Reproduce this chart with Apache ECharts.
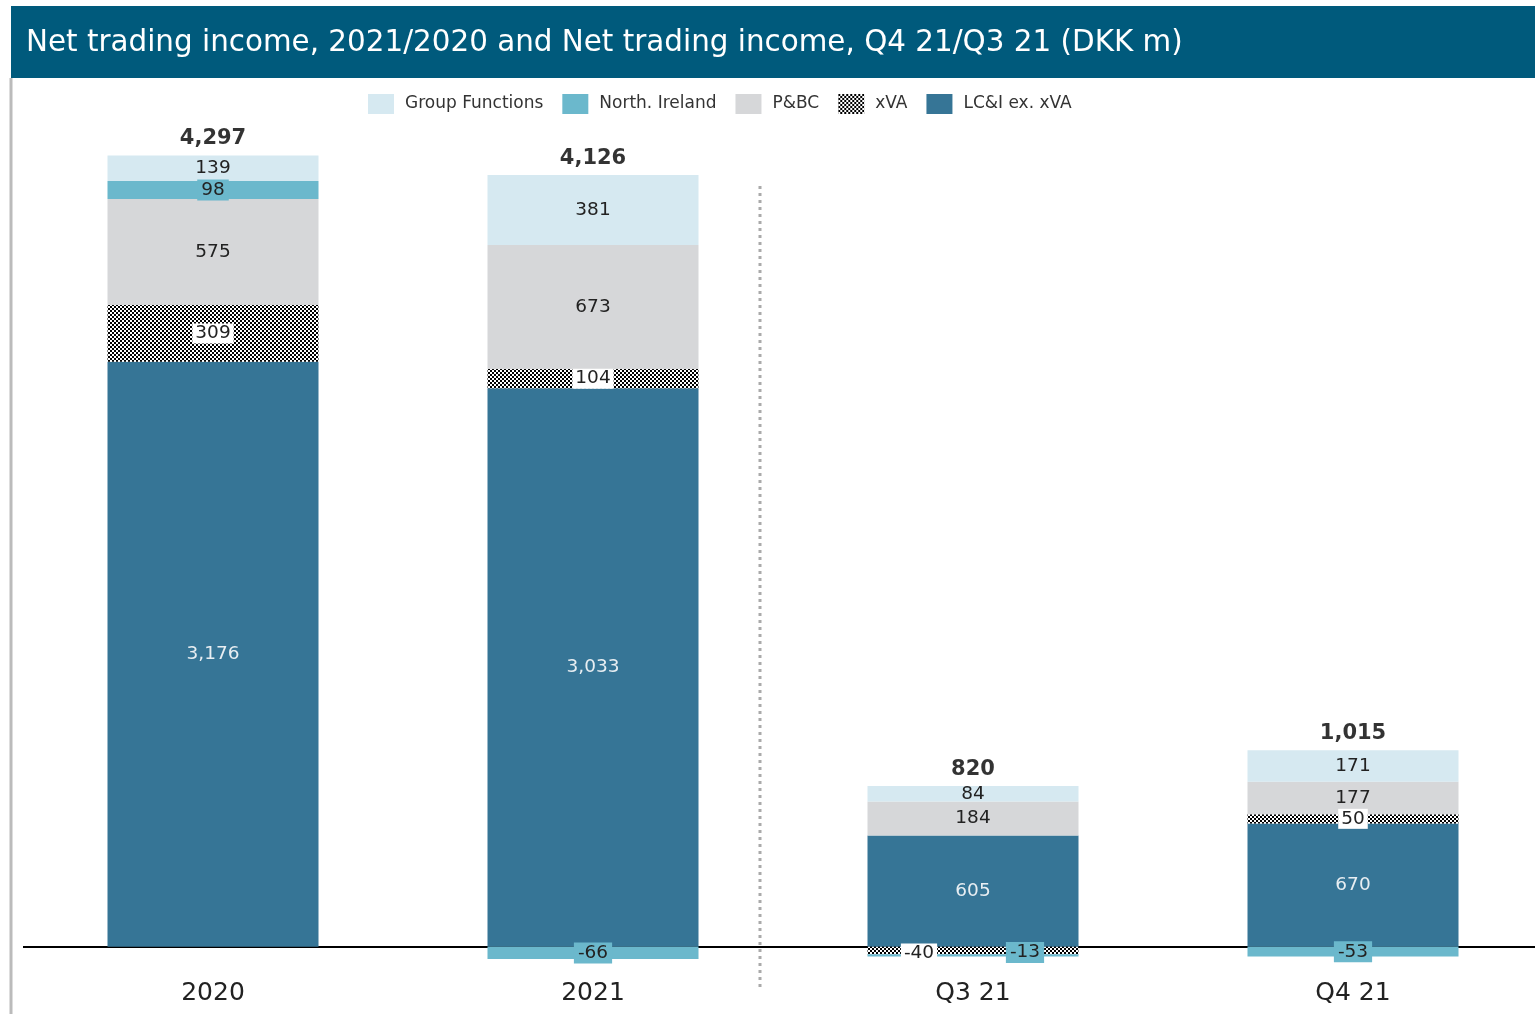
<!DOCTYPE html>
<html><head><meta charset="utf-8">
<script src="https://cdn.jsdelivr.net/npm/echarts@6/dist/echarts.min.js"></script>
<style>html,body{margin:0;padding:0;background:#fff}#c{width:1535px;height:1014px}</style>
</head><body><div id="c"></div>
<script>
const categories = ['2020', '2021', 'Q3 21', 'Q4 21'];
const lciExXva = [3176, 3033, 605, 670];
const xva = [309, 104, -40, 50];
const pbc = [575, 673, 184, 177];
const northIreland = [98, -66, -13, -53];
const groupFunctions = [139, 381, 84, 171];
const totals = [4297, 4126, 820, 1015];
const title = 'Net trading income, 2021/2020 and Net trading income, Q4 21/Q3 21 (DKK m)';

const FONT = 'DejaVu Sans';
const fmt = v => v.toLocaleString('en-US');

const pc = document.createElement('canvas');
pc.width = 4; pc.height = 4;
const g = pc.getContext('2d');
g.fillStyle = '#fff'; g.fillRect(0, 0, 4, 4);
g.fillStyle = '#000'; g.fillRect(0, 0, 2, 2); g.fillRect(2, 2, 2, 2);
const hatch = { image: pc, repeat: 'repeat' };

const labelOffsets = { 'xVA': { 2: [-54, 3] }, 'North. Ireland': { 2: [52, -3] } };

function mk(name, arr, color, labelStyle, extra) {
  return Object.assign({
    name, type: 'bar', stack: 'a', barWidth: 211,
    itemStyle: { color },
    label: Object.assign({ show: true, position: 'inside', fontFamily: FONT, fontSize: 18.5, color: '#222', formatter: p => fmt(p.value) }, labelStyle),
    data: arr.map((v, i) => {
      const off = labelOffsets[name] && labelOffsets[name][i];
      return off ? { value: v, label: { offset: off } } : v;
    })
  }, extra || {});
}

const posTop = categories.map((_, i) =>
  [lciExXva, xva, pbc, northIreland, groupFunctions].reduce((s, a) => s + Math.max(0, a[i]), 0));

const chart = echarts.init(document.getElementById('c'));
chart.setOption({
  animation: false,
  grid: { left: 23, width: 1520, top: 118, bottom: 34, containLabel: false, outerBoundsMode: 'none' },
  legend: {
    top: 89, left: 363,
    data: ['Group Functions', 'North. Ireland', 'P&BC', 'xVA', 'LC&I ex. xVA'],
    icon: 'rect',
    itemWidth: 26, itemHeight: 20, itemGap: 19,
    textStyle: { fontFamily: FONT, fontSize: 17, color: '#333', padding: [0, 0, 0, 6] }
  },
  xAxis: {
    type: 'category', data: categories,
    axisLine: { show: false, onZero: false },
    axisTick: { show: false },
    axisLabel: { margin: 1, fontFamily: FONT, fontSize: 25, color: '#222' }
  },
  yAxis: { type: 'value', min: -180, max: 4500, show: false, splitLine: { show: false } },
  series: [
    mk('LC&I ex. xVA', lciExXva, '#367596', { color: '#e8eef2' }),
    mk('xVA', xva, hatch, { backgroundColor: '#fff', padding: [1, 3, 0, 3] }),
    mk('P&BC', pbc, '#D6D7D9', {}),
    mk('North. Ireland', northIreland, '#6BB8CC', { backgroundColor: '#6BB8CC', padding: [2, 4, 0, 4] }),
    mk('Group Functions', groupFunctions, '#D6E9F1', {}, {
      markLine: { silent: true, symbol: 'none', label: { show: false }, z: 1,
        lineStyle: { color: '#000', width: 2, type: 'solid' }, data: [{ yAxis: 0 }] }
    }),
    {
      name: 'total', type: 'scatter', symbolSize: 0, silent: true,
      data: posTop,
      label: { show: true, position: 'top', distance: 6, fontFamily: FONT, fontSize: 21, fontWeight: 'bold', color: '#000',
        formatter: p => fmt(totals[p.dataIndex]) }
    }
  ],
  graphic: [
    { type: 'rect', shape: { x: 11, y: 6, width: 1524, height: 72 }, style: { fill: '#005A7C' } },
    { type: 'text', x: 26, y: 43, style: { text: title, fill: '#fff', font: '29.4px "' + FONT + '"', textVerticalAlign: 'middle' } },
    { type: 'line', shape: { x1: 11, y1: 78, x2: 11, y2: 1014 }, style: { stroke: '#bbb', lineWidth: 3 } },
    { type: 'line', shape: { x1: 760, y1: 186, x2: 760, y2: 990 }, style: { stroke: '#aaa', lineWidth: 3, lineDash: [3, 4] } }
  ]
});
</script></body></html>
